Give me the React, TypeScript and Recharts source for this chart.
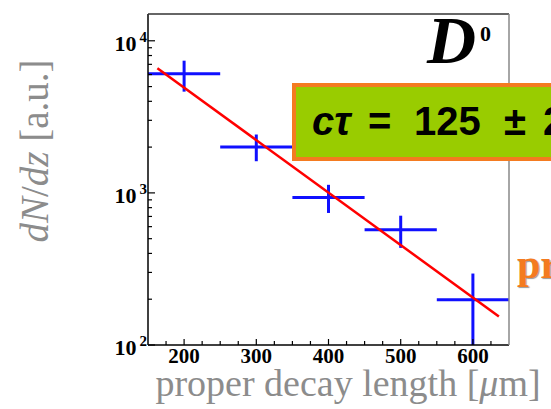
import { ScatterChart, Scatter, XAxis, YAxis, ErrorBar } from 'recharts'

// measured D0 yield vs proper decay length
const decayLength = [200, 300, 400, 500, 600]
const counts = [6080, 2005, 931, 573, 198]
const errDown = [1450, 390, 193, 138, 98]
const errUp = [1320, 415, 199, 135, 97]
const binHalfWidth = [50, 50, 50, 50, 50]

// exponential fit, end points
const fitX = [163, 636]
const fitY = [6600, 154]

const xTicks = [175, 200, 225, 250, 275, 300, 325, 350, 375, 400, 425, 450, 475, 500, 525, 550, 575, 600, 625]
const xLabels = [200, 300, 400, 500, 600]
const yTicks = [100, 200, 300, 400, 500, 600, 700, 800, 900, 1000, 2000, 3000, 4000, 5000, 6000, 7000, 8000, 9000, 10000]

const points = decayLength.map((x, i) => ({
  x,
  y: counts[i],
  ex: binHalfWidth[i],
  ey: [errDown[i], errUp[i]],
}))
const fit = fitX.map((x, i) => ({ x, y: fitY[i] }))

const BLUE = '#1010ff'
const GRAY = '#8c8c8c'
const ORANGE = '#f47b20'
const SERIF = '"Liberation Serif", "DejaVu Serif", serif'

const YTick = (props: any) => {
  const { x, y, payload } = props
  const lg = Math.log10(Number(payload.value))
  const exp = Math.round(lg)
  const major = Math.abs(lg - exp) < 1e-6
  return (
    <g>
      <line x1={x} x2={x + (major ? 7 : 4)} y1={y} y2={y} stroke="#000" strokeWidth={1.2} />
      {major && (
        <text x={x - 1} y={y + 10} textAnchor="end" fontSize={22} fontWeight={700} fontFamily={SERIF} fill="#000">
          10
          <tspan dx={3} dy={-9} fontSize={15}>{exp}</tspan>
        </text>
      )}
    </g>
  )
}

const XTick = (props: any) => {
  const { x, y, payload } = props
  const major = xLabels.includes(Number(payload.value))
  return (
    <g>
      <line x1={x} x2={x} y1={y} y2={y - (major ? 6 : 4)} stroke="#000" strokeWidth={1.2} />
      {major && (
        <text x={x} y={y + 18} textAnchor="middle" fontSize={21} fontWeight={700} fontFamily={SERIF} fill="#000">
          {payload.value}
        </text>
      )}
    </g>
  )
}

const noDot = () => <g />

export default function App() {
  return (
    <div style={{ position: 'fixed', left: 0, top: 0, width: 551, height: 409, background: '#fff', overflow: 'hidden' }}>
      <ScatterChart width={551} height={409} margin={{ top: 14, right: 42, left: 0, bottom: 0 }}>
        <XAxis
          type="number"
          dataKey="x"
          domain={[150, 650]}
          ticks={xTicks}
          interval={0}
          allowDataOverflow
          height={64}
          tickSize={0}
          tickMargin={0}
          tickLine={false}
          tick={(p: any) => <XTick {...p} />}
          axisLine={{ stroke: '#000', strokeWidth: 1.5 }}
        />
        <YAxis
          type="number"
          dataKey="y"
          scale="log"
          domain={[100, 15000]}
          ticks={yTicks}
          interval={0}
          allowDataOverflow
          width={148}
          tickSize={0}
          tickMargin={0}
          tickLine={false}
          tick={(p: any) => <YTick {...p} />}
          axisLine={{ stroke: '#000', strokeWidth: 1.5 }}
        />
        <Scatter
          data={fit}
          shape={noDot}
          line={{ stroke: '#ff0000', strokeWidth: 2.5 }}
          lineType="joint"
          isAnimationActive={false}
        />
        <Scatter data={points} shape={noDot} isAnimationActive={false}>
          <ErrorBar dataKey="ex" direction="x" width={0} stroke={BLUE} strokeWidth={3} />
          <ErrorBar dataKey="ey" direction="y" width={0} stroke={BLUE} strokeWidth={3} />
        </Scatter>
      </ScatterChart>

      <svg width={551} height={409} style={{ position: 'absolute', left: 0, top: 0, pointerEvents: 'none' }}>
        {/* frame */}
        <line x1={148} x2={509} y1={14} y2={14} stroke="#333" strokeWidth={1.5} />
        <line x1={509} x2={509} y1={14} y2={345} stroke="#888" strokeWidth={1.5} />

        {/* axis titles */}
        <text
          transform="translate(48,151) rotate(-90)"
          textAnchor="middle"
          fontSize={39}
          fill={GRAY}
          fontFamily={SERIF}
        >
          <tspan fontStyle="italic">dN</tspan>/<tspan fontStyle="italic">dz</tspan> [a.u.]
        </text>
        <text x={348} y={396} textAnchor="middle" fontSize={38} fill={GRAY} fontFamily={SERIF}>
          proper decay length [<tspan fontStyle="italic">μ</tspan>m]
        </text>

        {/* particle label */}
        <text x={427} y={63} fontSize={68} fontWeight={700} fontStyle="italic" fontFamily={SERIF} fill="#000">
          D
        </text>
        <text x={480} y={41} fontSize={22} fontWeight={700} fontFamily={SERIF} fill="#000">
          0
        </text>

        {/* fit result box */}
        <rect x={294} y={85} width={280} height={74} fill="#99cc00" stroke={ORANGE} strokeWidth={4} />
        <text y={135} fontSize={40} fontWeight={700} fontFamily='"Liberation Sans", Arial, sans-serif' fill="#000">
          <tspan x={312} fontStyle="italic">cτ</tspan>
          <tspan x={368}>=</tspan>
          <tspan x={414}>125</tspan>
          <tspan x={504}>±</tspan>
          <tspan x={543}>2 μm</tspan>
        </text>

        <text x={517} y={278} fontSize={42} fontWeight={700} fontFamily={SERIF} fill={ORANGE} style={{ textShadow: '1px 1px 1px #999' }}>
          proper
        </text>
      </svg>
    </div>
  )
}
